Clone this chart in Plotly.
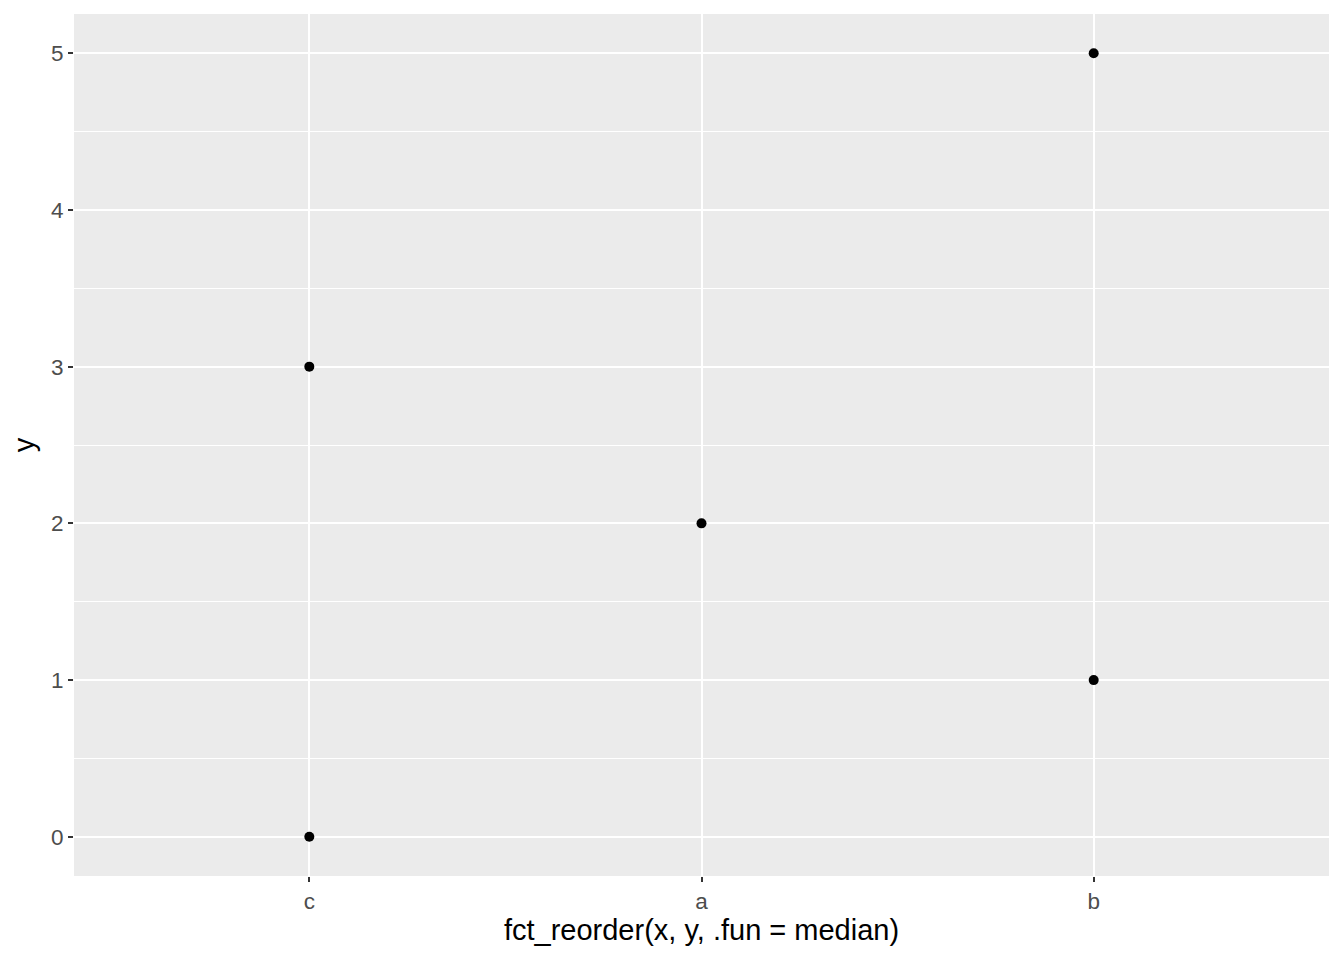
import plotly.graph_objects as go

# data
x_cat = ["a", "b", "b", "c", "c"]
y_val = [2, 1, 5, 0, 3]
x_order = ["c", "a", "b"]  # reordered by median of y
y_ticks = [0, 1, 2, 3, 4, 5]

fig = go.Figure(
    go.Scatter(
        x=x_cat,
        y=y_val,
        mode="markers",
        marker=dict(color="black", size=10),
        showlegend=False,
    )
)

axis_font = dict(family="Liberation Sans, Arial, sans-serif", size=22.5, color="#4D4D4D")
title_font = dict(family="Liberation Sans, Arial, sans-serif", size=29, color="black")

# page has an 8px body margin, so the figure sits at (8, 8)
fig.update_layout(
    width=1328,
    height=944,
    paper_bgcolor="white",
    plot_bgcolor="#EBEBEB",
    margin=dict(l=66, r=7, t=6, b=76),
    font=dict(family="Liberation Sans, Arial, sans-serif"),
)
fig.update_xaxes(
    type="category",
    categoryorder="array",
    categoryarray=x_order,
    range=[-0.6, 2.6],
    showgrid=True,
    gridcolor="white",
    gridwidth=2,
    zeroline=False,
    ticks="outside",
    ticklen=5,
    tickwidth=2,
    tickcolor="#333333",
    tickfont=axis_font,
    title=dict(text="fct_reorder(x, y, .fun = median)", font=title_font, standoff=3),
)
fig.update_yaxes(
    range=[-0.25, 5.25],
    tickvals=y_ticks,
    showgrid=True,
    gridcolor="white",
    gridwidth=2,
    zeroline=False,
    ticks="outside",
    ticklen=5,
    tickwidth=2,
    tickcolor="#333333",
    tickfont=axis_font,
    minor=dict(tickvals=[0.5, 1.5, 2.5, 3.5, 4.5], showgrid=True, gridcolor="white", gridwidth=1, ticks=""),
    title=dict(text="y", font=title_font, standoff=8),
)

fig.write_html("out.html")
